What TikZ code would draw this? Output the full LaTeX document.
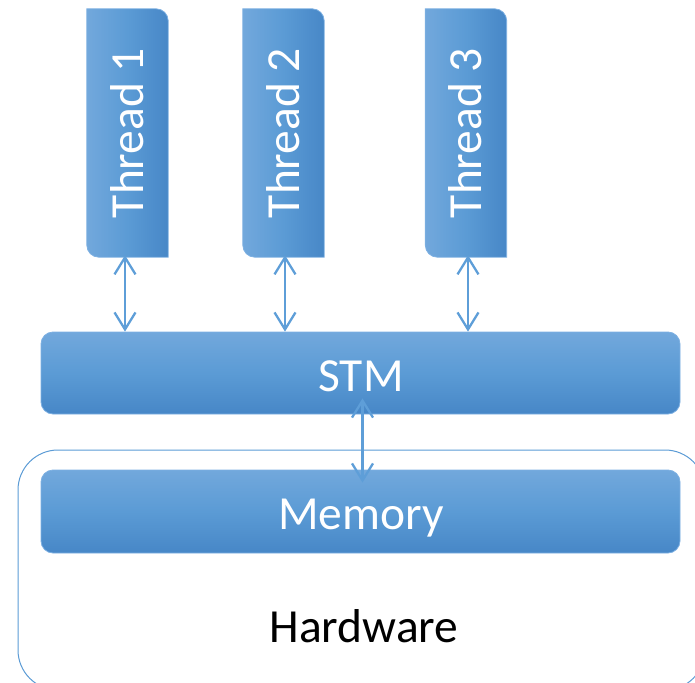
\documentclass[tikz,border=0pt]{standalone}
\usepackage{fontspec}
\setmainfont{Carlito}
\usetikzlibrary{arrows.meta,calc}
\definecolor{blueL}{HTML}{72A8DC}
\definecolor{blueM}{HTML}{5B9BD5}
\definecolor{blueD}{HTML}{4787C7}
\definecolor{rim}{HTML}{7DB0E2}
\definecolor{wire}{HTML}{5E9ED8}
\begin{document}
\begin{tikzpicture}[x=1pt,y=-1pt,
  lbl/.style={font=\fontsize{47.5}{52}\selectfont, text=white, inner sep=0pt},
  conn/.style={wire, line width=2.3pt,
    {Straight Barb[length=17pt,width=21pt]}-{Straight Barb[length=17pt,width=21pt]}},
  bar/.style={rounded corners=12pt, top color=blueL, bottom color=blueD,
    middle color=blueM, draw=rim, line width=0.8pt,
    minimum width=639pt, minimum height=82pt, inner sep=0pt},
  slot/.style={minimum width=81pt, minimum height=248pt, inner sep=0pt},
  threadfill/.style={left color=blueL, right color=blueD, middle color=blueM,
    draw=rim, line width=0.8pt}]

\useasboundingbox (0,0) rectangle (695,682);
\clip (0,0) rectangle (695,682);

% hardware frame (runs past the right and bottom edges)
\node[draw=blueM, line width=1pt, rounded corners=40pt,
      minimum width=687pt, minimum height=240pt, inner sep=0pt] (hw) at (361.5,570) {};
\node[font=\fontsize{47.5}{52}\selectfont, anchor=base, inner sep=0pt] (hwl) at (364,642) {Hardware};

% memory and STM layers
\node[bar, minimum height=83pt] (mem) at (360.5,511.5) {};
\node[lbl, anchor=base] (meml) at (361,529) {Memory};
\node[bar] (stm) at (360.5,373) {};
\node[lbl, anchor=base] (stml) at (361,391) {STM};

% thread boxes: rounded top-right and bottom-left corners
\foreach \n/\cx in {1/127.5, 2/283.5, 3/466}{
  \node[slot] (t\n) at (\cx,133) {};
  \path[threadfill]
    (t\n.north west) -- ($(t\n.north east)+(-12,0)$)
    arc[start angle=-90, end angle=0, radius=12]
    -- (t\n.south east) -- ($(t\n.south west)+(12,0)$)
    arc[start angle=90, end angle=180, radius=12] -- cycle;
  \node[lbl, rotate=90, anchor=base] (t\n l) at ($(t\n.center)+(15.5,0)$) {Thread \n};
}

% connectors
\draw[conn] ([xshift=-2.5pt,yshift=2pt]t1.south) -- ([xshift=-2.5pt]t1.south |- stm.north);
\draw[conn] ([xshift=1.5pt,yshift=2pt]t2.south) -- ([xshift=1.5pt]t2.south |- stm.north);
\draw[conn] ([xshift=2pt,yshift=2pt]t3.south) -- ([xshift=2pt]t3.south |- stm.north);
\draw[conn] ([xshift=2pt,yshift=16pt]stm.south) -- ([xshift=2pt,yshift=-13pt]mem.north);
\end{tikzpicture}
\end{document}
